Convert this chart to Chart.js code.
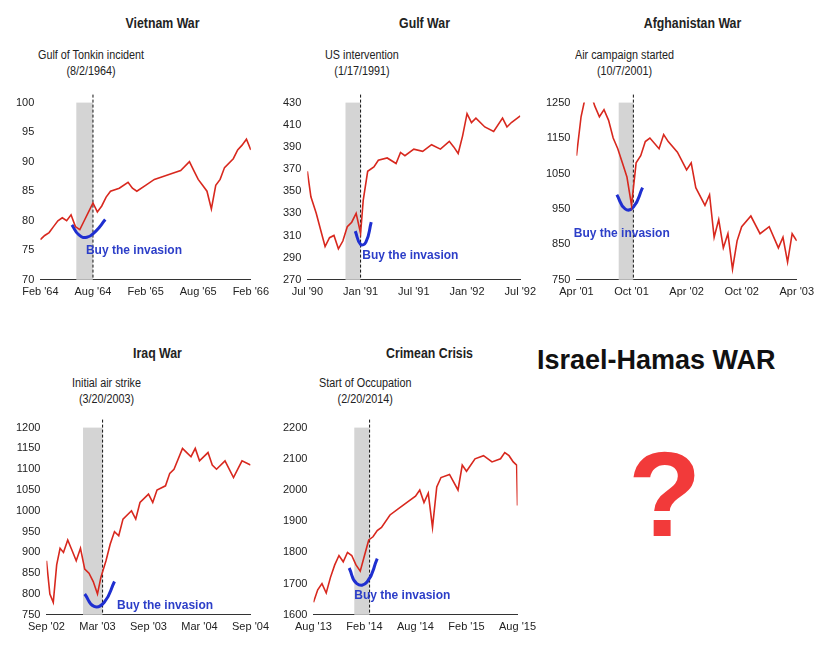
<!DOCTYPE html>
<html><head><meta charset="utf-8">
<script src="https://cdn.jsdelivr.net/npm/chart.js@4"></script>
<style>
body{margin:0;background:#fff;width:820px;height:656px;position:relative;overflow:hidden;font-family:'Liberation Sans Narrow','Liberation Sans',Arial,sans-serif}
.p{position:absolute;width:265px}
.t{position:absolute;width:100%;text-align:center;font-weight:bold;font-size:14px;color:#222;transform:scaleX(0.88)}
.s{position:absolute;font-size:12px;color:#222;text-align:center;line-height:16px;transform:scaleX(0.9);transform-origin:left}
canvas{position:absolute}
</style></head><body>
<div class="p" style="left:10px;top:15px"><div class="t" style="left:20px">Vietnam War</div><div class="s" style="left:28px;top:32px">Gulf of Tonkin incident<br>(8/2/1964)</div><canvas id="c0" width="265" height="215" style="top:75px"></canvas></div>
<div class="p" style="left:277px;top:15px"><div class="t" style="left:15px">Gulf War</div><div class="s" style="left:48px;top:32px">US intervention<br>(1/17/1991)</div><canvas id="c1" width="265" height="215" style="top:75px"></canvas></div>
<div class="p" style="left:540px;top:15px"><div class="t" style="left:20px">Afghanistan War</div><div class="s" style="left:35px;top:32px">Air campaign started<br>(10/7/2001)</div><canvas id="c2" width="280" height="215" style="top:75px"></canvas></div>
<div class="p" style="left:10px;top:345px"><div class="t" style="left:15px">Iraq War</div><div class="s" style="left:62px;top:30px">Initial air strike<br>(3/20/2003)</div><canvas id="c3" width="265" height="225" style="top:70px"></canvas></div>
<div class="p" style="left:277px;top:345px"><div class="t" style="left:20px">Crimean Crisis</div><div class="s" style="left:42px;top:30px">Start of Occupation<br>(2/20/2014)</div><canvas id="c4" width="265" height="225" style="top:70px"></canvas></div>
<div style="position:absolute;left:537px;top:345px;font:bold 27px 'Liberation Sans',Arial,sans-serif;color:#111">Israel-Hamas WAR</div>
<div style="position:absolute;left:628px;top:425px;font:bold 120px 'Liberation Sans',Arial,sans-serif;color:#f23a3a">?</div>
<script>
// x = months since start of window
const vietTicks = ["Feb '64","Aug '64","Feb '65","Aug '65","Feb '66"];
const vietX = [0,0.5,1,1.5,2,2.5,3,3.5,4,4.5,5,5.5,6,6.5,7,7.5,8,9,10,10.5,11,12,13,14,15,16,17,17.5,18,18.5,19,19.5,20,20.5,21,22,22.5,23,23.5,24];
const vietY = [76.8,77.5,78,79,80,80.5,80,81,79,78.5,80,81.5,83,81.5,82.5,84,85,85.5,86.5,85.5,85,86,87,87.5,88,88.5,90,88.5,87,86,85,82,86,87,89,90.5,92,92.8,93.8,92];
const gulfTicks = ["Jul '90","Jan '91","Jul '91","Jan '92","Jul '92"];
const gulfX = [0,0.4,1,1.5,2,2.5,3,3.5,4,4.5,5,5.5,6,6.3,6.8,7.5,8,9,10,10.5,11,12,13,14,15,16,16.5,17,17.5,18,18.5,19,20,21,22,22.5,23,24];
const gulfY = [368,345,330,315,300,308,310,298,305,318,322,330,312,342,368,372,378,380,375,385,382,388,386,392,388,395,390,384,400,420,412,416,408,404,416,408,412,418];
const afgTicks = ["Apr '01","Oct '01","Apr '02","Oct '02","Apr '03"];
const afgX = [0,0.5,1,1.5,2,2.5,3,3.5,4,4.5,5,5.5,6,6.5,7,7.5,8,9,9.5,10,11,12,12.5,13,14,14.5,15,15.5,16,16.5,17,17.5,18,19,20,21,22,22.5,23,23.5,24];
const afgY = [1100,1210,1270,1280,1240,1210,1230,1200,1150,1120,1080,1040,960,1080,1100,1140,1150,1120,1160,1140,1110,1060,1080,1010,960,990,870,920,840,880,780,860,900,930,880,900,840,870,800,880,860];
const iraqTicks = ["Sep '02","Mar '03","Sep '03","Mar '04","Sep '04"];
const iraqX = [0,0.4,0.8,1.2,1.6,2,2.5,3,3.5,4,4.5,5,5.5,6,6.4,7,7.5,8,8.5,9,10,10.5,11,12,12.5,13,14,14.5,15,16,16.5,17,17.5,18,19,19.5,20,21,22,22.5,23,24];
const iraqY = [880,800,780,870,910,900,930,905,880,910,860,850,830,800,840,880,920,950,940,980,1000,980,1020,1040,1020,1050,1060,1090,1100,1150,1140,1130,1150,1120,1140,1110,1100,1120,1080,1100,1120,1110];
const crimTicks = ["Aug '13","Feb '14","Aug '14","Feb '15","Aug '15"];
const crimX = [0,0.5,1,1.5,2,2.5,3,3.5,4,4.5,5,5.5,6,6.5,7,7.5,8,9,10,11,12,12.5,13,13.5,14,14.5,15,16,17,17.5,18,19,20,21,22,22.5,23,23.5,23.9,24];
const crimY = [1640,1680,1700,1670,1720,1760,1790,1770,1800,1790,1760,1740,1790,1840,1850,1870,1880,1920,1940,1960,1980,2000,1960,1990,1880,2010,2040,2050,2000,2080,2060,2100,2110,2090,2100,2120,2110,2090,2080,1950];
const vietSmileX = [3.6,4.4,5.3,6.3,7.4], vietSmileY = [79.3,77.6,77.2,78.2,80.2];
const gulfSmileX = [5.4,6,6.6,7.2], gulfSmileY = [314,302,304,322];
const afgSmileX = [4.4,5.3,6.2,7.2], afgSmileY = [990,950,955,1010];
const iraqSmileX = [4.5,5.6,6.8,8], iraqSmileY = [800,770,780,830];
const crimSmileX = [4.2,5.1,6.3,7.5], crimSmileY = [1750,1700,1705,1780];

const panels = [
  {x:vietX,y:vietY,ticks:vietTicks,min:70,max:100,step:5,shade:[4.1,6],sx:vietSmileX,sy:vietSmileY,lbl:[5.2,75]},
  {x:gulfX,y:gulfY,ticks:gulfTicks,min:270,max:430,step:20,shade:[4.3,6],sx:gulfSmileX,sy:gulfSmileY,lbl:[6.2,292]},
  {x:afgX,y:afgY,ticks:afgTicks,min:750,max:1250,step:100,shade:[4.6,6.2],sx:afgSmileX,sy:afgSmileY,lbl:[-0.3,880]},
  {x:iraqX,y:iraqY,ticks:iraqTicks,min:750,max:1200,step:50,shade:[4.3,6.6],sx:iraqSmileX,sy:iraqSmileY,lbl:[8.3,772]},
  {x:crimX,y:crimY,ticks:crimTicks,min:1600,max:2200,step:100,shade:[4.8,6.6],sx:crimSmileX,sy:crimSmileY,lbl:[4.8,1660]}
];
const font = {family:"'Liberation Sans Narrow','Liberation Sans',Arial,sans-serif",size:11};
panels.forEach((p,i)=>{
  const marks = {id:'marks',
    beforeDatasetsDraw(c){const {ctx,chartArea:a,scales:{x,y}}=c;
      ctx.save();ctx.fillStyle='#d4d4d4';
      ctx.fillRect(x.getPixelForValue(p.shade[0]),a.top,x.getPixelForValue(p.shade[1])-x.getPixelForValue(p.shade[0]),a.bottom-a.top);
      ctx.setLineDash([3,2]);ctx.strokeStyle='#111';ctx.lineWidth=1;ctx.beginPath();
      const dx=x.getPixelForValue(p.shade[1]);ctx.moveTo(dx,a.top-8);ctx.lineTo(dx,a.bottom);ctx.stroke();ctx.restore();},
    afterDatasetsDraw(c){const {ctx,scales:{x,y}}=c;ctx.save();ctx.fillStyle='#2c3ec8';
      ctx.font="bold 12px 'Liberation Sans Narrow','Liberation Sans',Arial,sans-serif";ctx.textBaseline='middle';
      ctx.fillText('Buy the invasion',x.getPixelForValue(p.lbl[0]),y.getPixelForValue(p.lbl[1]));ctx.restore();}
  };
  new Chart(document.getElementById('c'+i),{
    type:'line',
    data:{datasets:[
      {data:p.x.map((v,k)=>({x:v,y:p.y[k]})),borderColor:'#d8281e',borderWidth:1.6,pointRadius:0,tension:0},
      {data:p.sx.map((v,k)=>({x:v,y:p.sy[k]})),borderColor:'#1f2fd0',borderWidth:3,pointRadius:0,tension:0.5}
    ]},
    options:{responsive:false,animation:false,events:[],
      layout:{padding:{top:10,right:4}},
      plugins:{legend:{display:false},tooltip:{enabled:false}},
      scales:{
        x:{type:'linear',min:0,max:24,grid:{display:false,drawTicks:false},border:{color:'#333'},
          ticks:{stepSize:6,color:'#222',font,padding:6,maxRotation:0,callback:v=>p.ticks[v/6]}},
        y:{min:p.min,max:p.max,grid:{display:false,drawTicks:false},border:{display:false},
          ticks:{stepSize:p.step,color:'#222',font,padding:6,callback:v=>String(v)}}
      }},
    plugins:[marks]
  });
});
</script></body></html>
